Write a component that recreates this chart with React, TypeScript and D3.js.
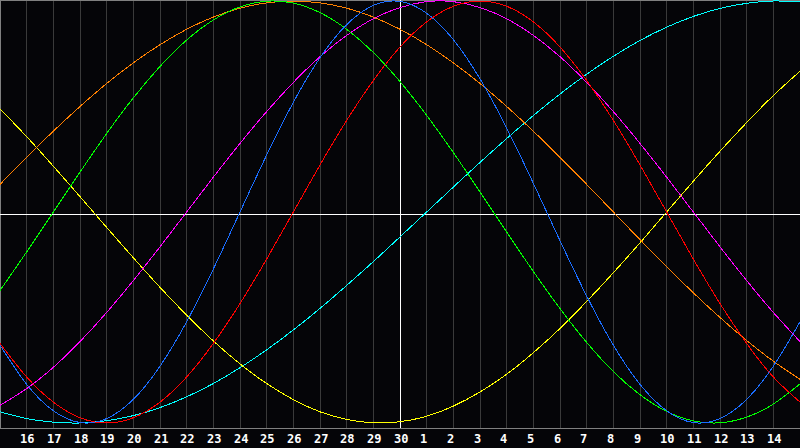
import * as d3 from "d3";

// day labels along the bottom (one per grid line, 30 in the middle)
const dayLabels = [
  "16", "17", "18", "19", "20", "21", "22", "23", "24", "25", "26", "27", "28", "29", "30",
  "1", "2", "3", "4", "5", "6", "7", "8", "9", "10", "11", "12", "13", "14",
];

// daily values, day "15" of the previous month to day "15" (31 points, -1..1)
const physical = [
  -0.631, -0.817, -0.942, -0.998, -0.979, -0.888, -0.731, -0.52, -0.27, 0, 0.27, 0.52, 0.731, 0.888, 0.979, 0.998,
  0.942, 0.817, 0.631, 0.398, 0.136, -0.136, -0.398, -0.631, -0.817, -0.942, -0.998, -0.979, -0.888, -0.731, -0.52,
];
const emotional = [
  -0.623, -0.782, -0.901, -0.975, -1, -0.975, -0.901, -0.782, -0.623, -0.434, -0.223, 0, 0.223, 0.434, 0.623, 0.782,
  0.901, 0.975, 1, 0.975, 0.901, 0.782, 0.623, 0.434, 0.223, 0, -0.223, -0.434, -0.623, -0.782, -0.901,
];
const intellectual = [
  -0.372, -0.189, 0, 0.189, 0.372, 0.541, 0.69, 0.815, 0.91, 0.972, 0.999, 0.99, 0.945, 0.866, 0.756, 0.618,
  0.458, 0.282, 0.095, -0.095, -0.282, -0.458, -0.618, -0.756, -0.866, -0.945, -0.99, -0.999, -0.972, -0.91, -0.815,
];
const intuitive = [
  -0.916, -0.837, -0.736, -0.614, -0.476, -0.325, -0.165, 0, 0.165, 0.325, 0.476, 0.614, 0.736, 0.837, 0.916, 0.969,
  0.997, 0.997, 0.969, 0.916, 0.837, 0.736, 0.614, 0.476, 0.325, 0.165, 0, -0.165, -0.325, -0.476, -0.614,
];
const aesthetic = [
  0.489, 0.357, 0.217, 0.073, -0.073, -0.217, -0.357, -0.489, -0.611, -0.72, -0.813, -0.889, -0.947, -0.983, -0.999, -0.994,
  -0.968, -0.92, -0.853, -0.769, -0.667, -0.552, -0.424, -0.288, -0.146, 0, 0.146, 0.288, 0.424, 0.552, 0.667,
];
const awareness = [
  0.131, 0.259, 0.383, 0.5, 0.609, 0.707, 0.793, 0.866, 0.924, 0.966, 0.991, 1, 0.991, 0.966, 0.924, 0.866,
  0.793, 0.707, 0.609, 0.5, 0.383, 0.259, 0.131, 0, -0.131, -0.259, -0.383, -0.5, -0.609, -0.707, -0.793,
];
const spiritual = [
  -0.947, -0.979, -0.996, -1, -0.989, -0.965, -0.927, -0.876, -0.813, -0.738, -0.653, -0.559, -0.457, -0.348, -0.235, -0.118,
  0, 0.118, 0.235, 0.348, 0.457, 0.559, 0.653, 0.738, 0.813, 0.876, 0.927, 0.965, 0.989, 1, 0.996,
];

const series = [
  { name: "spiritual", values: spiritual, color: "#00ffff" },
  { name: "aesthetic", values: aesthetic, color: "#ffff00" },
  { name: "awareness", values: awareness, color: "#ff8000" },
  { name: "intuitive", values: intuitive, color: "#ff00ff" },
  { name: "intellectual", values: intellectual, color: "#00ff00" },
  { name: "physical", values: physical, color: "#1a6dff" },
  { name: "emotional", values: emotional, color: "#ff0000" },
];

export default function App() {
  const width = 800;
  const height = 448;
  const plotBottom = 428;
  const days = physical.length - 1; // 30 day-intervals across

  const x = d3.scaleLinear().domain([0, days]).range([0, width]);
  const y = d3.scaleLinear().domain([-1, 1]).range([423, 1]);
  const px = (i: number) => Math.floor(x(i)) + 0.5;

  const line = d3
    .line<number>()
    .x((_, i) => x(i))
    .y((v) => y(v))
    .curve(d3.curveNatural);

  const mid = days / 2;

  return (
    <div style={{ position: "fixed", left: 0, top: 0 }}>
      <svg width={width} height={height} style={{ display: "block", background: "#050508" }}>
        {/* day grid */}
        {d3.range(1, days).map((i) =>
          i === mid ? null : (
            <line key={i} x1={px(i)} x2={px(i)} y1={0} y2={plotBottom} stroke="#3a3a3a" strokeWidth={1} />
          )
        )}
        {/* frame */}
        <line x1={0} x2={width} y1={0.5} y2={0.5} stroke="#808080" />
        <line x1={0.5} x2={0.5} y1={0} y2={plotBottom} stroke="#808080" />
        <line x1={0} x2={width} y1={plotBottom + 0.5} y2={plotBottom + 0.5} stroke="#808080" />

        {/* today / zero lines */}
        <line x1={0} x2={width} y1={plotBottom / 2 + 0.5} y2={plotBottom / 2 + 0.5} stroke="#ffffff" />
        <line x1={px(mid)} x2={px(mid)} y1={0} y2={plotBottom} stroke="#ffffff" />

        {series.map((s) => (
          <path
            key={s.name}
            d={line(s.values) ?? ""}
            fill="none"
            stroke={s.color}
            strokeWidth={1}
            shapeRendering="crispEdges"
          />
        ))}

        {dayLabels.map((label, i) => (
          <text
            key={i}
            x={Math.floor(x(i + 1)) - 6}
            y={443}
            fill="#ffffff"
            fontFamily="'DejaVu Sans Mono', monospace"
            fontWeight="bold"
            fontSize={12}
          >
            {label}
          </text>
        ))}
      </svg>
    </div>
  );
}
